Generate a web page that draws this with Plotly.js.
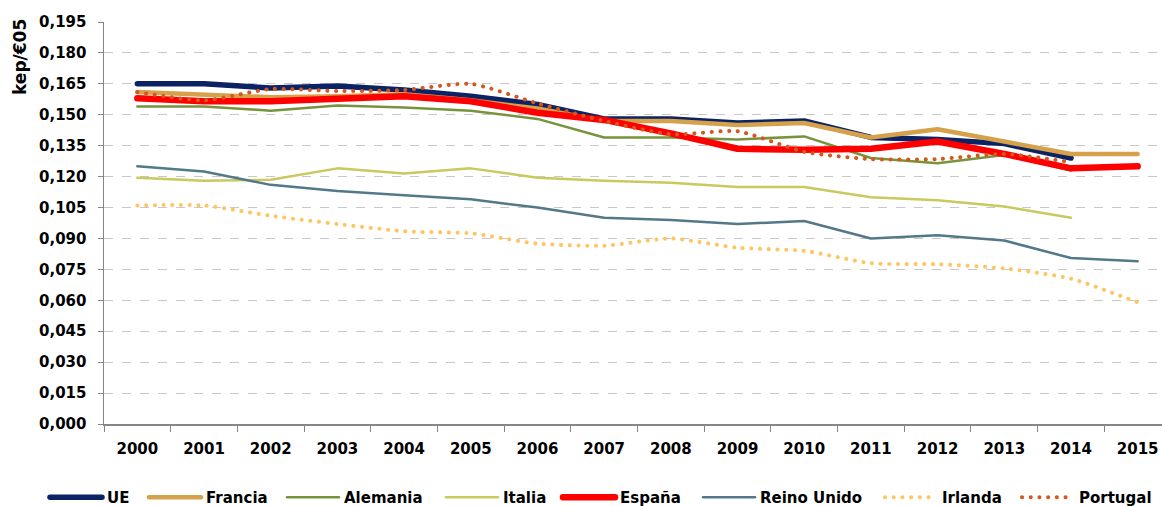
<!DOCTYPE html>
<html>
<head>
<meta charset="utf-8">
<script src="https://cdn.plot.ly/plotly-3.0.1.min.js"></script>
<style>
html,body{margin:0;padding:0;background:#fff;overflow:hidden;}
path.js-line{stroke-linecap:round;stroke-linejoin:round;}
</style>
</head>
<body>
<div id="chart"></div>
<script>
const years = ['2000','2001','2002','2003','2004','2005','2006','2007','2008','2009','2010','2011','2012','2013','2014','2015'];
const ue       = [0.165, 0.165, 0.163, 0.164, 0.162, 0.159, 0.155, 0.148, 0.148, 0.146, 0.147, 0.139, 0.138, 0.136, 0.129, null];
const francia  = [0.161, 0.160, 0.1585, 0.159, 0.160, 0.157, 0.153, 0.147, 0.147, 0.145, 0.146, 0.139, 0.143, 0.137, 0.131, 0.131];
const alemania = [0.154, 0.154, 0.152, 0.1545, 0.1535, 0.152, 0.148, 0.139, 0.139, 0.138, 0.1395, 0.129, 0.1265, 0.1305, 0.123, null];
const italia   = [0.1195, 0.118, 0.1185, 0.124, 0.1215, 0.124, 0.1195, 0.118, 0.117, 0.115, 0.115, 0.110, 0.1085, 0.1055, 0.100, null];
const espana   = [0.158, 0.1565, 0.1565, 0.1575, 0.159, 0.1565, 0.151, 0.1475, 0.141, 0.1335, 0.133, 0.1335, 0.137, 0.131, 0.124, 0.125];
const reino    = [0.125, 0.1225, 0.116, 0.113, 0.111, 0.109, 0.105, 0.100, 0.099, 0.097, 0.0985, 0.090, 0.0915, 0.089, 0.0805, 0.079];
const irlanda  = [0.106, 0.106, 0.101, 0.097, 0.0935, 0.0925, 0.0875, 0.0865, 0.090, 0.0855, 0.084, 0.078, 0.0775, 0.0755, 0.0705, 0.059];
const portugal = [0.161, 0.157, 0.1625, 0.1615, 0.162, 0.165, 0.1555, 0.147, 0.1405, 0.142, 0.132, 0.1285, 0.1285, 0.131, 0.127, null];
const yTitle = 'kep/€05';

const FONT = 'DejaVu Sans, Liberation Sans, sans-serif';
const f = {family: FONT, size: 15, color: '#000', weight: 'bold'};
// legend entry left edges (pixels in page)
const legendLeftPx = [45, 144, 282, 441, 558, 698, 880, 1017];
const PL = 104, PW = 1067;

function tr(name, y, color, width, dash, shape, i) {
  return {
    type: 'scatter', mode: 'lines', name: name, x: years, y: y,
    line: {color: color, width: width, dash: dash || 'solid', shape: shape || 'linear', smoothing: 0.6},
    connectgaps: false, hoverinfo: 'skip', legend: 'legend' + (i + 2)
  };
}
const data = [
  tr('UE', ue, '#0B2265', 5.5, null, null, 0),
  tr('Francia', francia, '#D6A14B', 4.5, null, null, 1),
  tr('Alemania', alemania, '#77933C', 2.5, null, null, 2),
  tr('Italia', italia, '#C9C95E', 2.5, null, null, 3),
  tr('España', espana, '#FF0000', 6.5, null, null, 4),
  tr('Reino Unido', reino, '#53788A', 2.5, null, null, 5),
  tr('Irlanda', irlanda, '#FFC561', 4, '0.1px,8.6px', 'spline', 6),
  tr('Portugal', portugal, '#D4571C', 4, '0.1px,8.6px', 'spline', 7)
];
const layout = {
  width: 1175, height: 506,
  margin: {l: PL, r: 4, t: 22, b: 82, autoexpand: false},
  paper_bgcolor: '#fff', plot_bgcolor: '#fff',
  separators: ',.',
  font: f,
  showlegend: true,
  xaxis: {type: 'category', tickson: 'boundaries', ticks: 'outside', ticklen: 6, tickcolor: '#868686',
          showline: true, linecolor: '#868686', linewidth: 1.5, showgrid: false, zeroline: false,
          range: [-0.5, 15.5], fixedrange: true, ticklabelstandoff: 10, tickfont: f},
  yaxis: {range: [0, 0.195], dtick: 0.015, tick0: 0, tickformat: '.3f', ticks: 'outside', ticklen: 5,
          tickcolor: '#868686', showline: true, linecolor: '#868686', linewidth: 1.5,
          showgrid: true, gridcolor: '#C8C8C8', griddash: 'dash', gridwidth: 1, zeroline: false,
          ticklabelstandoff: 8, fixedrange: true, tickfont: f},
  annotations: [{
    text: yTitle, xref: 'paper', yref: 'paper', x: -0.0787, y: 0.913, textangle: -90,
    showarrow: false, xanchor: 'center', yanchor: 'middle',
    font: {family: FONT, size: 17, color: '#000', weight: 'bold'}
  }]
};
legendLeftPx.forEach((px, i) => {
  layout['legend' + (i + 2)] = {orientation: 'h', x: (px - PL) / PW, xanchor: 'left', y: -0.183, yanchor: 'middle',
                 font: f, itemwidth: 52, bgcolor: 'rgba(0,0,0,0)'};
});
Plotly.newPlot('chart', data, layout, {displayModeBar: false, staticPlot: true});
</script>
</body>
</html>
